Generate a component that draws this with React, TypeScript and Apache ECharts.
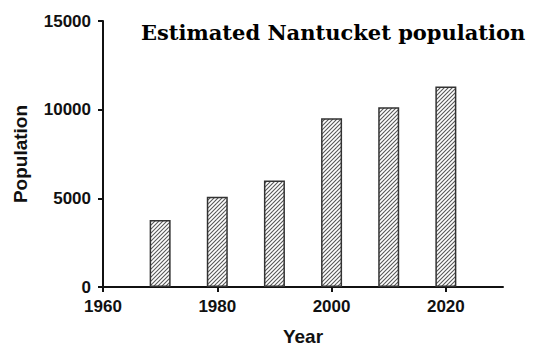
import React, { useEffect, useRef } from "react";
import * as echarts from "echarts";

const years = [1970, 1980, 1990, 2000, 2010, 2020];
const population = [3774, 5087, 6012, 9520, 10130, 11300];
const xTicks = [1960, 1980, 2000, 2020];
const titleText = "Estimated Nantucket population";

function makeHatch() {
  const c = document.createElement("canvas");
  c.width = 8;
  c.height = 8;
  const ctx = c.getContext("2d")!;
  ctx.fillStyle = "#ffffff";
  ctx.fillRect(0, 0, 8, 8);
  ctx.strokeStyle = "#555555";
  ctx.lineWidth = 1.1;
  for (let k = -2; k <= 3; k++) {
    ctx.beginPath();
    ctx.moveTo(k * 4 - 1, 9);
    ctx.lineTo(k * 4 + 9, -1);
    ctx.stroke();
  }
  return c;
}

export default function App() {
  const ref = useRef<HTMLDivElement>(null);
  useEffect(() => {
    const chart = echarts.init(ref.current!, null, { renderer: "svg" });
    const hatch = makeHatch();
    const labelFont = {
      fontFamily: "Liberation Sans",
      fontWeight: "bold" as const,
      fontSize: 17,
      color: "#111",
    };
    chart.setOption({
      animation: false,
      backgroundColor: "#ffffff",
      title: {
        text: titleText,
        left: 136,
        top: 17,
        textStyle: {
          fontFamily: "DejaVu Serif",
          fontWeight: 900,
          fontSize: 21,
          color: "#000",
        },
      },
      grid: { left: 103, right: 47, top: 21, bottom: 66, containLabel: false },
      xAxis: {
        type: "value",
        min: 1960,
        max: 2030,
        interval: 10,
        name: "Year",
        nameLocation: "middle",
        nameGap: 40,
        nameTextStyle: { ...labelFont, fontSize: 19 },
        axisLine: { show: true, lineStyle: { color: "#111", width: 2 } },
        axisTick: { show: true, length: 5, lineStyle: { color: "#111", width: 2 }, customValues: xTicks },
        axisLabel: {
          ...labelFont,
          customValues: xTicks,
          margin: 11,
          formatter: (v: number) => String(v),
        },
        splitLine: { show: false },
      },
      yAxis: {
        type: "value",
        min: 0,
        max: 15000,
        interval: 5000,
        name: "Population",
        nameLocation: "middle",
        nameGap: 73,
        nameRotate: 90,
        nameTextStyle: { ...labelFont, fontSize: 19 },
        axisLine: { show: true, lineStyle: { color: "#111", width: 2 } },
        axisTick: { show: true, length: 5, lineStyle: { color: "#111", width: 2 } },
        axisLabel: {
          ...labelFont,
          margin: 12,
          formatter: (v: number) => String(v),
        },
        splitLine: { show: false },
      },
      series: [
        {
          type: "bar",
          data: years.map((y, i) => [y, population[i]]),
          barWidth: 21,
          itemStyle: {
            color: { image: hatch, repeat: "repeat" },
            borderColor: "#333",
            borderWidth: 1.5,
          },
        },
      ],
    });
    return () => chart.dispose();
  }, []);
  return <div ref={ref} style={{ width: 550, height: 353, position: "absolute", left: 0, top: 0 }} />;
}
